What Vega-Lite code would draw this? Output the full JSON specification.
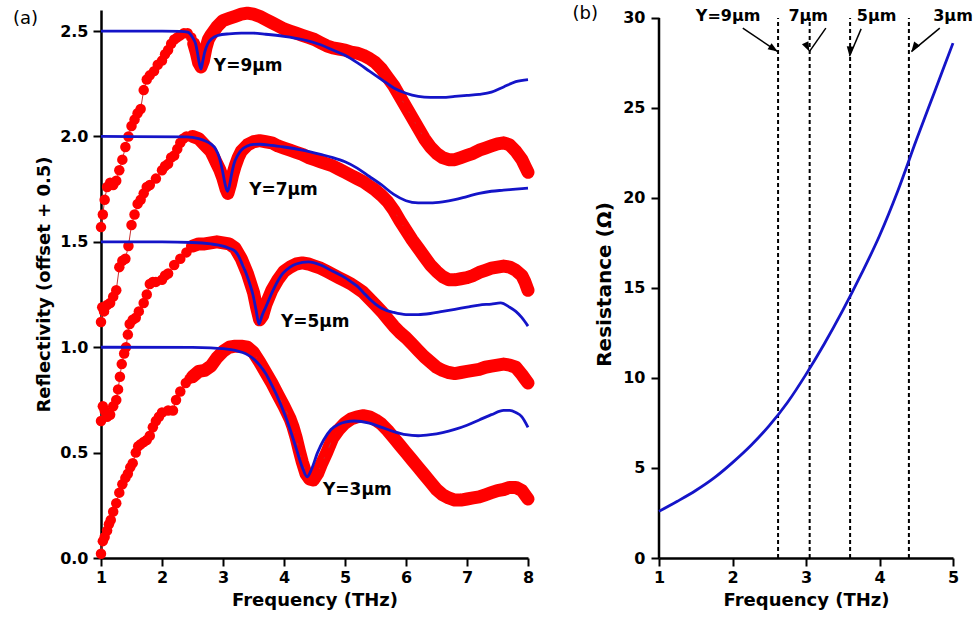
{
  "$schema": "https://vega.github.io/schema/vega-lite/v6.json",
  "background": "white",
  "padding": {"left": 12, "top": 5, "right": 2, "bottom": 2},
  "spacing": 131,
  "bounds": "flush",
  "config": {
    "view": {"stroke": null},
    "font": "DejaVu Sans",
    "axis": {"labelFont": "DejaVu Sans", "labelFontSize": 16, "labelFontWeight": "bold", "labelColor": "#000", "titleFont": "DejaVu Sans", "titleFontSize": 18, "titleFontWeight": "bold", "titleColor": "#000", "domainColor": "#000", "domainWidth": 2.5, "tickColor": "#000", "tickWidth": 2, "tickSize": 8, "grid": false, "labelPadding": 4, "labelFlush": false, "labelOverlap": false}
  },
  "datasets": {
    "red": [
      {"s":"9","f":1.0,"r":1.57},{"s":"9","f":1.03,"r":1.63},{"s":"9","f":1.06,"r":1.70},{"s":"9","f":1.1,"r":1.76},{"s":"9","f":1.15,"r":1.78},{"s":"9","f":1.2,"r":1.77},{"s":"9","f":1.25,"r":1.79},{"s":"9","f":1.3,"r":1.84},{"s":"9","f":1.35,"r":1.89},{"s":"9","f":1.4,"r":1.95},{"s":"9","f":1.45,"r":2.0},{"s":"9","f":1.5,"r":2.05},{"s":"9","f":1.55,"r":2.08},{"s":"9","f":1.6,"r":2.11},{"s":"9","f":1.65,"r":2.13},{"s":"9","f":1.7,"r":2.22},{"s":"9","f":1.75,"r":2.27},{"s":"9","f":1.8,"r":2.29},{"s":"9","f":1.87,"r":2.31},{"s":"9","f":1.93,"r":2.34},{"s":"9","f":2.0,"r":2.36},{"s":"9","f":2.05,"r":2.39},{"s":"9","f":2.1,"r":2.41},{"s":"9","f":2.15,"r":2.44},{"s":"9","f":2.2,"r":2.46},{"s":"9","f":2.25,"r":2.47},{"s":"9","f":2.3,"r":2.48},{"s":"9","f":2.36,"r":2.49},{"s":"9","f":2.42,"r":2.49},{"s":"9","f":2.48,"r":2.47},{"s":"9","f":2.52,"r":2.44},{"s":"9","f":2.56,"r":2.40},{"s":"9","f":2.6,"r":2.35},{"s":"9","f":2.64,"r":2.33},{"s":"9","f":2.68,"r":2.36},{"s":"9","f":2.72,"r":2.42},{"s":"9","f":2.76,"r":2.46},{"s":"9","f":2.8,"r":2.48},{"s":"9","f":2.85,"r":2.50},{"s":"9","f":2.9,"r":2.52},{"s":"9","f":3.0,"r":2.55},{"s":"9","f":3.1,"r":2.56},{"s":"9","f":3.2,"r":2.57},{"s":"9","f":3.3,"r":2.58},{"s":"9","f":3.4,"r":2.585},{"s":"9","f":3.5,"r":2.58},{"s":"9","f":3.6,"r":2.57},{"s":"9","f":3.7,"r":2.555},{"s":"9","f":3.8,"r":2.54},{"s":"9","f":3.9,"r":2.525},{"s":"9","f":4.0,"r":2.51},{"s":"9","f":4.1,"r":2.50},{"s":"9","f":4.2,"r":2.49},{"s":"9","f":4.3,"r":2.48},{"s":"9","f":4.4,"r":2.47},{"s":"9","f":4.5,"r":2.46},{"s":"9","f":4.6,"r":2.445},{"s":"9","f":4.7,"r":2.43},{"s":"9","f":4.8,"r":2.42},{"s":"9","f":4.9,"r":2.415},{"s":"9","f":5.0,"r":2.41},{"s":"9","f":5.1,"r":2.40},{"s":"9","f":5.2,"r":2.395},{"s":"9","f":5.3,"r":2.385},{"s":"9","f":5.4,"r":2.37},{"s":"9","f":5.5,"r":2.35},{"s":"9","f":5.6,"r":2.32},{"s":"9","f":5.7,"r":2.28},{"s":"9","f":5.8,"r":2.24},{"s":"9","f":5.9,"r":2.19},{"s":"9","f":6.0,"r":2.14},{"s":"9","f":6.1,"r":2.09},{"s":"9","f":6.2,"r":2.04},{"s":"9","f":6.3,"r":1.99},{"s":"9","f":6.4,"r":1.95},{"s":"9","f":6.5,"r":1.92},{"s":"9","f":6.6,"r":1.90},{"s":"9","f":6.7,"r":1.89},{"s":"9","f":6.8,"r":1.89},{"s":"9","f":6.9,"r":1.90},{"s":"9","f":7.0,"r":1.91},{"s":"9","f":7.1,"r":1.92},{"s":"9","f":7.2,"r":1.935},{"s":"9","f":7.3,"r":1.945},{"s":"9","f":7.4,"r":1.955},{"s":"9","f":7.5,"r":1.965},{"s":"9","f":7.6,"r":1.97},{"s":"9","f":7.7,"r":1.96},{"s":"9","f":7.8,"r":1.93},{"s":"9","f":7.9,"r":1.89},{"s":"9","f":7.95,"r":1.86},{"s":"9","f":8.0,"r":1.83},
      {"s":"7","f":1.0,"r":1.12},{"s":"7","f":1.02,"r":1.19},{"s":"7","f":1.05,"r":1.17},{"s":"7","f":1.1,"r":1.20},{"s":"7","f":1.15,"r":1.21},{"s":"7","f":1.2,"r":1.24},{"s":"7","f":1.25,"r":1.27},{"s":"7","f":1.3,"r":1.38},{"s":"7","f":1.35,"r":1.41},{"s":"7","f":1.4,"r":1.42},{"s":"7","f":1.45,"r":1.48},{"s":"7","f":1.5,"r":1.58},{"s":"7","f":1.55,"r":1.63},{"s":"7","f":1.6,"r":1.68},{"s":"7","f":1.65,"r":1.70},{"s":"7","f":1.7,"r":1.73},{"s":"7","f":1.75,"r":1.76},{"s":"7","f":1.8,"r":1.77},{"s":"7","f":1.9,"r":1.80},{"s":"7","f":2.0,"r":1.84},{"s":"7","f":2.05,"r":1.86},{"s":"7","f":2.1,"r":1.87},{"s":"7","f":2.15,"r":1.90},{"s":"7","f":2.2,"r":1.91},{"s":"7","f":2.25,"r":1.94},{"s":"7","f":2.3,"r":1.97},{"s":"7","f":2.35,"r":1.99},{"s":"7","f":2.4,"r":2.0},{"s":"7","f":2.5,"r":2.0},{"s":"7","f":2.6,"r":1.99},{"s":"7","f":2.7,"r":1.96},{"s":"7","f":2.8,"r":1.93},{"s":"7","f":2.85,"r":1.90},{"s":"7","f":2.9,"r":1.87},{"s":"7","f":2.95,"r":1.84},{"s":"7","f":3.0,"r":1.80},{"s":"7","f":3.05,"r":1.75},{"s":"7","f":3.08,"r":1.73},{"s":"7","f":3.12,"r":1.77},{"s":"7","f":3.16,"r":1.82},{"s":"7","f":3.2,"r":1.86},{"s":"7","f":3.25,"r":1.90},{"s":"7","f":3.3,"r":1.93},{"s":"7","f":3.4,"r":1.96},{"s":"7","f":3.5,"r":1.975},{"s":"7","f":3.6,"r":1.98},{"s":"7","f":3.7,"r":1.975},{"s":"7","f":3.8,"r":1.97},{"s":"7","f":3.9,"r":1.955},{"s":"7","f":4.0,"r":1.945},{"s":"7","f":4.1,"r":1.935},{"s":"7","f":4.2,"r":1.925},{"s":"7","f":4.3,"r":1.915},{"s":"7","f":4.4,"r":1.90},{"s":"7","f":4.5,"r":1.89},{"s":"7","f":4.6,"r":1.88},{"s":"7","f":4.7,"r":1.87},{"s":"7","f":4.8,"r":1.86},{"s":"7","f":4.9,"r":1.845},{"s":"7","f":5.0,"r":1.83},{"s":"7","f":5.1,"r":1.815},{"s":"7","f":5.2,"r":1.80},{"s":"7","f":5.3,"r":1.785},{"s":"7","f":5.4,"r":1.765},{"s":"7","f":5.5,"r":1.745},{"s":"7","f":5.6,"r":1.72},{"s":"7","f":5.7,"r":1.69},{"s":"7","f":5.8,"r":1.65},{"s":"7","f":5.9,"r":1.60},{"s":"7","f":6.0,"r":1.555},{"s":"7","f":6.1,"r":1.51},{"s":"7","f":6.2,"r":1.47},{"s":"7","f":6.3,"r":1.43},{"s":"7","f":6.4,"r":1.39},{"s":"7","f":6.5,"r":1.36},{"s":"7","f":6.6,"r":1.335},{"s":"7","f":6.7,"r":1.32},{"s":"7","f":6.8,"r":1.32},{"s":"7","f":6.9,"r":1.325},{"s":"7","f":7.0,"r":1.33},{"s":"7","f":7.1,"r":1.34},{"s":"7","f":7.2,"r":1.355},{"s":"7","f":7.3,"r":1.365},{"s":"7","f":7.4,"r":1.375},{"s":"7","f":7.5,"r":1.38},{"s":"7","f":7.6,"r":1.385},{"s":"7","f":7.7,"r":1.38},{"s":"7","f":7.8,"r":1.365},{"s":"7","f":7.9,"r":1.34},{"s":"7","f":7.95,"r":1.31},{"s":"7","f":8.0,"r":1.27},
      {"s":"5","f":1.0,"r":0.65},{"s":"5","f":1.03,"r":0.72},{"s":"5","f":1.06,"r":0.70},{"s":"5","f":1.1,"r":0.67},{"s":"5","f":1.15,"r":0.68},{"s":"5","f":1.2,"r":0.72},{"s":"5","f":1.25,"r":0.75},{"s":"5","f":1.28,"r":0.80},{"s":"5","f":1.31,"r":0.86},{"s":"5","f":1.34,"r":0.92},{"s":"5","f":1.38,"r":0.97},{"s":"5","f":1.41,"r":1.0},{"s":"5","f":1.44,"r":1.06},{"s":"5","f":1.47,"r":1.11},{"s":"5","f":1.52,"r":1.13},{"s":"5","f":1.57,"r":1.14},{"s":"5","f":1.62,"r":1.17},{"s":"5","f":1.7,"r":1.21},{"s":"5","f":1.75,"r":1.25},{"s":"5","f":1.8,"r":1.30},{"s":"5","f":1.85,"r":1.31},{"s":"5","f":1.9,"r":1.31},{"s":"5","f":2.0,"r":1.32},{"s":"5","f":2.05,"r":1.34},{"s":"5","f":2.1,"r":1.35},{"s":"5","f":2.2,"r":1.39},{"s":"5","f":2.3,"r":1.42},{"s":"5","f":2.4,"r":1.45},{"s":"5","f":2.5,"r":1.48},{"s":"5","f":2.6,"r":1.49},{"s":"5","f":2.7,"r":1.49},{"s":"5","f":2.8,"r":1.495},{"s":"5","f":2.9,"r":1.50},{"s":"5","f":3.0,"r":1.495},{"s":"5","f":3.1,"r":1.49},{"s":"5","f":3.2,"r":1.47},{"s":"5","f":3.3,"r":1.42},{"s":"5","f":3.4,"r":1.35},{"s":"5","f":3.5,"r":1.26},{"s":"5","f":3.55,"r":1.19},{"s":"5","f":3.6,"r":1.13},{"s":"5","f":3.65,"r":1.15},{"s":"5","f":3.7,"r":1.20},{"s":"5","f":3.8,"r":1.27},{"s":"5","f":3.9,"r":1.32},{"s":"5","f":4.0,"r":1.36},{"s":"5","f":4.1,"r":1.38},{"s":"5","f":4.2,"r":1.395},{"s":"5","f":4.3,"r":1.40},{"s":"5","f":4.4,"r":1.395},{"s":"5","f":4.5,"r":1.385},{"s":"5","f":4.6,"r":1.375},{"s":"5","f":4.7,"r":1.36},{"s":"5","f":4.8,"r":1.345},{"s":"5","f":4.9,"r":1.33},{"s":"5","f":5.0,"r":1.315},{"s":"5","f":5.1,"r":1.30},{"s":"5","f":5.2,"r":1.28},{"s":"5","f":5.3,"r":1.26},{"s":"5","f":5.4,"r":1.23},{"s":"5","f":5.5,"r":1.20},{"s":"5","f":5.6,"r":1.17},{"s":"5","f":5.7,"r":1.135},{"s":"5","f":5.8,"r":1.10},{"s":"5","f":5.9,"r":1.07},{"s":"5","f":6.0,"r":1.045},{"s":"5","f":6.1,"r":1.015},{"s":"5","f":6.2,"r":0.985},{"s":"5","f":6.3,"r":0.955},{"s":"5","f":6.4,"r":0.93},{"s":"5","f":6.5,"r":0.905},{"s":"5","f":6.6,"r":0.89},{"s":"5","f":6.7,"r":0.88},{"s":"5","f":6.8,"r":0.875},{"s":"5","f":6.9,"r":0.88},{"s":"5","f":7.0,"r":0.885},{"s":"5","f":7.1,"r":0.89},{"s":"5","f":7.2,"r":0.895},{"s":"5","f":7.3,"r":0.905},{"s":"5","f":7.4,"r":0.91},{"s":"5","f":7.5,"r":0.915},{"s":"5","f":7.6,"r":0.92},{"s":"5","f":7.7,"r":0.915},{"s":"5","f":7.8,"r":0.905},{"s":"5","f":7.9,"r":0.87},{"s":"5","f":7.95,"r":0.85},{"s":"5","f":8.0,"r":0.83},
      {"s":"3","f":1.0,"r":0.02},{"s":"3","f":1.03,"r":0.08},{"s":"3","f":1.06,"r":0.10},{"s":"3","f":1.1,"r":0.13},{"s":"3","f":1.13,"r":0.16},{"s":"3","f":1.16,"r":0.18},{"s":"3","f":1.2,"r":0.22},{"s":"3","f":1.25,"r":0.26},{"s":"3","f":1.3,"r":0.31},{"s":"3","f":1.35,"r":0.35},{"s":"3","f":1.4,"r":0.38},{"s":"3","f":1.44,"r":0.40},{"s":"3","f":1.48,"r":0.43},{"s":"3","f":1.52,"r":0.45},{"s":"3","f":1.57,"r":0.50},{"s":"3","f":1.61,"r":0.53},{"s":"3","f":1.65,"r":0.54},{"s":"3","f":1.7,"r":0.55},{"s":"3","f":1.75,"r":0.56},{"s":"3","f":1.8,"r":0.58},{"s":"3","f":1.85,"r":0.62},{"s":"3","f":1.9,"r":0.65},{"s":"3","f":1.95,"r":0.67},{"s":"3","f":2.0,"r":0.69},{"s":"3","f":2.1,"r":0.70},{"s":"3","f":2.18,"r":0.70},{"s":"3","f":2.23,"r":0.75},{"s":"3","f":2.3,"r":0.79},{"s":"3","f":2.39,"r":0.83},{"s":"3","f":2.45,"r":0.85},{"s":"3","f":2.5,"r":0.86},{"s":"3","f":2.6,"r":0.885},{"s":"3","f":2.7,"r":0.89},{"s":"3","f":2.8,"r":0.91},{"s":"3","f":2.9,"r":0.95},{"s":"3","f":3.0,"r":0.98},{"s":"3","f":3.1,"r":1.0},{"s":"3","f":3.2,"r":1.005},{"s":"3","f":3.3,"r":1.005},{"s":"3","f":3.4,"r":1.0},{"s":"3","f":3.5,"r":0.975},{"s":"3","f":3.6,"r":0.93},{"s":"3","f":3.7,"r":0.88},{"s":"3","f":3.8,"r":0.83},{"s":"3","f":3.9,"r":0.775},{"s":"3","f":4.0,"r":0.72},{"s":"3","f":4.1,"r":0.66},{"s":"3","f":4.15,"r":0.62},{"s":"3","f":4.2,"r":0.57},{"s":"3","f":4.25,"r":0.51},{"s":"3","f":4.3,"r":0.455},{"s":"3","f":4.36,"r":0.40},{"s":"3","f":4.42,"r":0.375},{"s":"3","f":4.48,"r":0.37},{"s":"3","f":4.55,"r":0.40},{"s":"3","f":4.62,"r":0.45},{"s":"3","f":4.7,"r":0.50},{"s":"3","f":4.8,"r":0.57},{"s":"3","f":4.9,"r":0.61},{"s":"3","f":5.0,"r":0.64},{"s":"3","f":5.1,"r":0.66},{"s":"3","f":5.2,"r":0.67},{"s":"3","f":5.3,"r":0.675},{"s":"3","f":5.4,"r":0.67},{"s":"3","f":5.5,"r":0.655},{"s":"3","f":5.6,"r":0.635},{"s":"3","f":5.7,"r":0.605},{"s":"3","f":5.8,"r":0.57},{"s":"3","f":5.9,"r":0.535},{"s":"3","f":6.0,"r":0.50},{"s":"3","f":6.1,"r":0.465},{"s":"3","f":6.2,"r":0.43},{"s":"3","f":6.3,"r":0.395},{"s":"3","f":6.4,"r":0.36},{"s":"3","f":6.5,"r":0.325},{"s":"3","f":6.6,"r":0.30},{"s":"3","f":6.7,"r":0.285},{"s":"3","f":6.8,"r":0.275},{"s":"3","f":6.9,"r":0.275},{"s":"3","f":7.0,"r":0.28},{"s":"3","f":7.1,"r":0.285},{"s":"3","f":7.2,"r":0.29},{"s":"3","f":7.3,"r":0.30},{"s":"3","f":7.4,"r":0.31},{"s":"3","f":7.5,"r":0.32},{"s":"3","f":7.6,"r":0.325},{"s":"3","f":7.7,"r":0.335},{"s":"3","f":7.8,"r":0.335},{"s":"3","f":7.9,"r":0.32},{"s":"3","f":7.95,"r":0.30},{"s":"3","f":8.0,"r":0.28}
    ],
    "fit": [
      {"s":"9","f":1.0,"r":2.5},{"s":"9","f":2.0,"r":2.5},{"s":"9","f":2.3,"r":2.499},{"s":"9","f":2.42,"r":2.495},{"s":"9","f":2.5,"r":2.47},{"s":"9","f":2.55,"r":2.44},{"s":"9","f":2.58,"r":2.40},{"s":"9","f":2.61,"r":2.35},{"s":"9","f":2.64,"r":2.32},{"s":"9","f":2.67,"r":2.36},{"s":"9","f":2.7,"r":2.40},{"s":"9","f":2.75,"r":2.44},{"s":"9","f":2.82,"r":2.465},{"s":"9","f":2.92,"r":2.48},{"s":"9","f":3.1,"r":2.487},{"s":"9","f":3.3,"r":2.49},{"s":"9","f":3.5,"r":2.49},{"s":"9","f":3.7,"r":2.485},{"s":"9","f":4.0,"r":2.475},{"s":"9","f":4.3,"r":2.46},{"s":"9","f":4.6,"r":2.435},{"s":"9","f":4.8,"r":2.41},{"s":"9","f":5.0,"r":2.385},{"s":"9","f":5.2,"r":2.35},{"s":"9","f":5.4,"r":2.31},{"s":"9","f":5.6,"r":2.27},{"s":"9","f":5.8,"r":2.23},{"s":"9","f":6.0,"r":2.205},{"s":"9","f":6.2,"r":2.19},{"s":"9","f":6.4,"r":2.185},{"s":"9","f":6.6,"r":2.185},{"s":"9","f":6.8,"r":2.19},{"s":"9","f":7.0,"r":2.195},{"s":"9","f":7.2,"r":2.20},{"s":"9","f":7.4,"r":2.21},{"s":"9","f":7.6,"r":2.235},{"s":"9","f":7.8,"r":2.26},{"s":"9","f":8.0,"r":2.27},
      {"s":"7","f":1.0,"r":2.0},{"s":"7","f":2.4,"r":1.998},{"s":"7","f":2.6,"r":1.99},{"s":"7","f":2.7,"r":1.98},{"s":"7","f":2.8,"r":1.965},{"s":"7","f":2.88,"r":1.94},{"s":"7","f":2.94,"r":1.90},{"s":"7","f":2.99,"r":1.84},{"s":"7","f":3.03,"r":1.78},{"s":"7","f":3.07,"r":1.74},{"s":"7","f":3.1,"r":1.76},{"s":"7","f":3.14,"r":1.82},{"s":"7","f":3.18,"r":1.87},{"s":"7","f":3.24,"r":1.91},{"s":"7","f":3.3,"r":1.935},{"s":"7","f":3.4,"r":1.955},{"s":"7","f":3.5,"r":1.962},{"s":"7","f":3.6,"r":1.963},{"s":"7","f":3.8,"r":1.958},{"s":"7","f":4.0,"r":1.95},{"s":"7","f":4.3,"r":1.935},{"s":"7","f":4.6,"r":1.915},{"s":"7","f":4.8,"r":1.90},{"s":"7","f":5.0,"r":1.88},{"s":"7","f":5.2,"r":1.85},{"s":"7","f":5.4,"r":1.81},{"s":"7","f":5.6,"r":1.77},{"s":"7","f":5.8,"r":1.725},{"s":"7","f":6.0,"r":1.695},{"s":"7","f":6.2,"r":1.685},{"s":"7","f":6.4,"r":1.685},{"s":"7","f":6.6,"r":1.69},{"s":"7","f":6.8,"r":1.70},{"s":"7","f":7.0,"r":1.715},{"s":"7","f":7.2,"r":1.73},{"s":"7","f":7.4,"r":1.74},{"s":"7","f":7.6,"r":1.745},{"s":"7","f":7.8,"r":1.75},{"s":"7","f":8.0,"r":1.755},
      {"s":"5","f":1.0,"r":1.5},{"s":"5","f":2.0,"r":1.5},{"s":"5","f":2.5,"r":1.497},{"s":"5","f":2.8,"r":1.49},{"s":"5","f":3.0,"r":1.48},{"s":"5","f":3.1,"r":1.47},{"s":"5","f":3.2,"r":1.455},{"s":"5","f":3.26,"r":1.43},{"s":"5","f":3.32,"r":1.39},{"s":"5","f":3.38,"r":1.35},{"s":"5","f":3.44,"r":1.30},{"s":"5","f":3.49,"r":1.25},{"s":"5","f":3.54,"r":1.18},{"s":"5","f":3.59,"r":1.11},{"s":"5","f":3.64,"r":1.15},{"s":"5","f":3.7,"r":1.19},{"s":"5","f":3.82,"r":1.27},{"s":"5","f":3.98,"r":1.35},{"s":"5","f":4.1,"r":1.38},{"s":"5","f":4.2,"r":1.395},{"s":"5","f":4.4,"r":1.405},{"s":"5","f":4.6,"r":1.39},{"s":"5","f":4.8,"r":1.36},{"s":"5","f":5.0,"r":1.33},{"s":"5","f":5.1,"r":1.31},{"s":"5","f":5.2,"r":1.29},{"s":"5","f":5.3,"r":1.26},{"s":"5","f":5.4,"r":1.23},{"s":"5","f":5.5,"r":1.205},{"s":"5","f":5.6,"r":1.185},{"s":"5","f":5.8,"r":1.165},{"s":"5","f":6.0,"r":1.155},{"s":"5","f":6.2,"r":1.155},{"s":"5","f":6.4,"r":1.16},{"s":"5","f":6.6,"r":1.17},{"s":"5","f":6.8,"r":1.18},{"s":"5","f":7.0,"r":1.19},{"s":"5","f":7.2,"r":1.20},{"s":"5","f":7.4,"r":1.205},{"s":"5","f":7.55,"r":1.21},{"s":"5","f":7.7,"r":1.19},{"s":"5","f":7.8,"r":1.17},{"s":"5","f":7.9,"r":1.14},{"s":"5","f":8.0,"r":1.10},
      {"s":"3","f":1.0,"r":1.0},{"s":"3","f":2.5,"r":0.999},{"s":"3","f":2.8,"r":0.997},{"s":"3","f":3.0,"r":0.993},{"s":"3","f":3.2,"r":0.985},{"s":"3","f":3.4,"r":0.965},{"s":"3","f":3.5,"r":0.945},{"s":"3","f":3.6,"r":0.915},{"s":"3","f":3.7,"r":0.875},{"s":"3","f":3.8,"r":0.82},{"s":"3","f":3.9,"r":0.76},{"s":"3","f":4.0,"r":0.69},{"s":"3","f":4.1,"r":0.61},{"s":"3","f":4.2,"r":0.52},{"s":"3","f":4.3,"r":0.43},{"s":"3","f":4.38,"r":0.385},{"s":"3","f":4.45,"r":0.42},{"s":"3","f":4.55,"r":0.50},{"s":"3","f":4.65,"r":0.56},{"s":"3","f":4.77,"r":0.61},{"s":"3","f":4.9,"r":0.635},{"s":"3","f":5.0,"r":0.645},{"s":"3","f":5.15,"r":0.65},{"s":"3","f":5.4,"r":0.64},{"s":"3","f":5.6,"r":0.62},{"s":"3","f":5.8,"r":0.60},{"s":"3","f":6.0,"r":0.585},{"s":"3","f":6.2,"r":0.58},{"s":"3","f":6.4,"r":0.585},{"s":"3","f":6.6,"r":0.595},{"s":"3","f":6.8,"r":0.61},{"s":"3","f":7.0,"r":0.63},{"s":"3","f":7.2,"r":0.655},{"s":"3","f":7.4,"r":0.68},{"s":"3","f":7.6,"r":0.70},{"s":"3","f":7.7,"r":0.70},{"s":"3","f":7.8,"r":0.69},{"s":"3","f":7.9,"r":0.67},{"s":"3","f":8.0,"r":0.62}
    ],
    "alabels": [
      {"t":"Y=9μm","f":2.85,"r":2.335},
      {"t":"Y=7μm","f":3.43,"r":1.745},
      {"t":"Y=5μm","f":3.95,"r":1.12},
      {"t":"Y=3μm","f":4.64,"r":0.325}
    ],
    "res": [
      {"f":1.0,"R":2.59},{"f":1.25,"R":3.15},{"f":1.5,"R":3.75},{"f":1.75,"R":4.45},{"f":2.0,"R":5.3},{"f":2.25,"R":6.25},{"f":2.5,"R":7.35},{"f":2.75,"R":8.65},{"f":3.0,"R":10.2},{"f":3.25,"R":11.9},{"f":3.5,"R":13.75},{"f":3.75,"R":15.75},{"f":4.0,"R":17.9},{"f":4.25,"R":20.4},{"f":4.5,"R":23.2},{"f":4.75,"R":25.9},{"f":5.0,"R":28.6}
    ],
    "arrows": [
      {"k":"9","d":2.62,"f":2.14,"R":29.43,"f2":2.615,"R2":28.13},
      {"k":"7","d":3.05,"f":3.27,"R":29.43,"f2":3.046,"R2":28.13},
      {"k":"5","d":3.6,"f":3.75,"R":29.39,"f2":3.592,"R2":27.87},
      {"k":"3","d":4.4,"f":4.82,"R":29.43,"f2":4.434,"R2":28.13}
    ],
    "blabels": [
      {"t":"Y=9μm","f":1.94,"R":30.1},
      {"t":"7μm","f":3.03,"R":30.1},
      {"t":"5μm","f":3.96,"R":30.1},
      {"t":"3μm","f":5.0,"R":30.1}
    ],
    "tags": [
      {"t":"(a)","fa":-0.443,"ra":2.533,"fb":-0.177,"Rb":29.94}
    ]
  },
  "hconcat": [
    {
      "width": 427,
      "height": 548,
      "encoding": {
        "x": {"field": "f", "type": "quantitative", "scale": {"domain": [1, 8], "nice": false, "zero": false}, "axis": {"title": "Frequency (THz)", "values": [1,2,3,4,5,6,7,8], "labelPadding": 3, "titlePadding": 6}},
        "y": {"field": "r", "type": "quantitative", "scale": {"domain": [0, 2.6], "nice": false, "zero": false}, "axis": {"title": "Reflectivity (offset + 0.5)", "values": [0,0.5,1,1.5,2,2.5], "format": ".1f", "titleFontSize": 18, "titlePadding": 6, "labelPadding": 5}}
      },
      "layer": [
        {"data": {"name": "red"}, "transform": [{"filter": "datum.f >= 2.5"}], "mark": {"type": "line", "color": "#ff0000", "strokeWidth": 13, "strokeCap": "round", "strokeJoin": "round"}, "encoding": {"detail": {"field": "s"}}},
        {"data": {"name": "red"}, "mark": {"type": "line", "color": "#c83030", "strokeWidth": 1}, "encoding": {"detail": {"field": "s"}}},
        {"data": {"name": "red"}, "mark": {"type": "point", "filled": true, "color": "#ff0000", "size": 110, "opacity": 1, "strokeWidth": 0}, "encoding": {"detail": {"field": "s"}}},
        {"data": {"name": "fit"}, "mark": {"type": "line", "color": "#1414c8", "strokeWidth": 2.8, "interpolate": "monotone"}, "encoding": {"detail": {"field": "s"}}},
        {"data": {"name": "alabels"}, "mark": {"type": "text", "align": "left", "baseline": "middle", "font": "DejaVu Sans", "fontWeight": "bold", "fontSize": 17, "color": "#000"}, "encoding": {"text": {"field": "t"}}},
        {"data": {"name": "tags"}, "mark": {"type": "text", "align": "left", "baseline": "alphabetic", "font": "DejaVu Sans", "fontWeight": "normal", "fontSize": 18, "color": "#000"}, "encoding": {"x": {"field": "fa", "type": "quantitative"}, "y": {"field": "ra", "type": "quantitative"}, "text": {"value": "(a)"}}}
      ]
    },
    {
      "width": 294,
      "height": 548,
      "encoding": {
        "x": {"field": "f", "type": "quantitative", "scale": {"domain": [1, 5], "nice": false, "zero": false}, "axis": {"title": "Frequency (THz)", "values": [1,2,3,4,5], "labelPadding": 3, "titlePadding": 6}},
        "y": {"field": "R", "type": "quantitative", "scale": {"domain": [0, 30.44], "nice": false, "zero": false}, "axis": {"title": "Resistance (Ω)", "values": [0,5,10,15,20,25,30], "domain": false, "titleFontSize": 20, "titlePadding": 8, "labelPadding": 6}}
      },
      "layer": [
        {"data": {"name": "res"}, "transform": [{"filter": "datum.f == 1"}], "mark": {"type": "rule", "color": "#000", "strokeWidth": 2.5}, "encoding": {"y": {"datum": 0, "type": "quantitative"}, "y2": {"datum": 30}}},
        {"data": {"name": "arrows"}, "mark": {"type": "rule", "color": "#000", "strokeWidth": 2, "strokeDash": [4, 3]}, "encoding": {"x": {"field": "d", "type": "quantitative"}, "y": {"datum": 0, "type": "quantitative"}, "y2": {"datum": 30}}},
        {"data": {"name": "res"}, "mark": {"type": "line", "color": "#1414c8", "strokeWidth": 2.8, "interpolate": "monotone"}},
        {"data": {"name": "arrows"}, "mark": {"type": "rule", "color": "#000", "strokeWidth": 1.5}, "encoding": {"x2": {"field": "f2"}, "y2": {"field": "R2"}}},
        {"data": {"name": "arrows"}, "mark": {"type": "point", "filled": true, "color": "#000", "opacity": 1, "size": 170, "shape": "M0,0L-0.55,1.5L0.55,1.5Z", "strokeWidth": 0}, "encoding": {"x": {"field": "f2", "type": "quantitative"}, "y": {"field": "R2", "type": "quantitative"}, "angle": {"field": "k", "type": "nominal", "scale": {"domain": ["9","7","5","3"], "range": [123.7, 215.5, 203.1, 230.4]}, "legend": null}}},
        {"data": {"name": "blabels"}, "mark": {"type": "text", "align": "center", "baseline": "middle", "font": "DejaVu Sans", "fontWeight": "bold", "fontSize": 16, "color": "#000"}, "encoding": {"text": {"field": "t"}}},
        {"data": {"name": "tags"}, "mark": {"type": "text", "align": "left", "baseline": "alphabetic", "font": "DejaVu Sans", "fontWeight": "normal", "fontSize": 18, "color": "#000"}, "encoding": {"x": {"field": "fb", "type": "quantitative"}, "y": {"field": "Rb", "type": "quantitative"}, "text": {"value": "(b)"}}}
      ]
    }
  ]
}
